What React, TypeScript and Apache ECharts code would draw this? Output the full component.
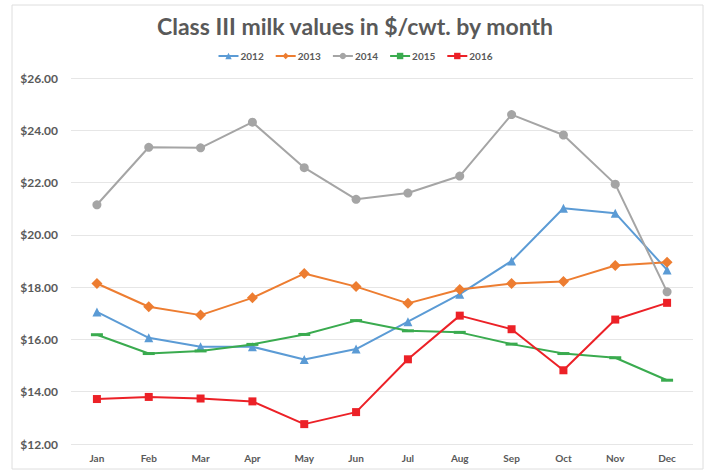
import React, { useEffect, useRef } from "react";
import * as echarts from "echarts";

const months = ["Jan", "Feb", "Mar", "Apr", "May", "Jun", "Jul", "Aug", "Sep", "Oct", "Nov", "Dec"];
const v2012 = [17.05, 16.06, 15.72, 15.72, 15.23, 15.63, 16.68, 17.73, 19.0, 21.02, 20.83, 18.66];
const v2013 = [18.14, 17.25, 16.93, 17.59, 18.52, 18.02, 17.38, 17.91, 18.14, 18.22, 18.83, 18.95];
const v2014 = [21.15, 23.35, 23.33, 24.31, 22.57, 21.36, 21.6, 22.25, 24.6, 23.82, 21.94, 17.82];
const v2015 = [16.18, 15.46, 15.56, 15.81, 16.19, 16.72, 16.33, 16.27, 15.82, 15.46, 15.3, 14.44];
const v2016 = [13.72, 13.8, 13.74, 13.63, 12.76, 13.22, 15.24, 16.91, 16.39, 14.82, 16.76, 17.4];
const yTicks = { min: 12, max: 26, step: 2 };

const FONT = "Lato, 'Open Sans', sans-serif";
const TXT = "#595959";

export default function App() {
  const ref = useRef<HTMLDivElement>(null);
  useEffect(() => {
    if (!ref.current) return;
    const chart = echarts.init(ref.current, undefined, { renderer: "svg" });
    const mk = (name: string, data: number[], color: string, symbol: string, size: any) => ({
      name,
      type: "line",
      data,
      symbol,
      symbolSize: size,
      showSymbol: true,
      lineStyle: { color, width: 2 },
      itemStyle: { color },
    });
    chart.setOption({
      animation: false,
      backgroundColor: "#fff",
      textStyle: { fontFamily: FONT },
      title: {
        text: "Class III milk values in $/cwt. by month",
        left: "center",
        top: 9,
        textStyle: { fontFamily: FONT, fontSize: 23, fontWeight: "bold", color: TXT },
      },
      legend: {
        top: 46,
        left: "center",
        itemWidth: 20,
        itemHeight: 8,
        itemGap: 11,
        textStyle: { fontFamily: FONT, fontSize: 10, fontWeight: "bold", color: TXT, padding: [0, 0, 0, -3] },
      },
      grid: { left: 71, right: 17, top: 78, bottom: 26 },
      xAxis: {
        type: "category",
        data: months,
        boundaryGap: true,
        axisLine: { show: false },
        axisTick: { show: false },
        axisLabel: { color: TXT, fontFamily: FONT, fontSize: 10, fontWeight: "bold", margin: 9 },
      },
      yAxis: {
        type: "value",
        min: yTicks.min,
        max: yTicks.max,
        interval: yTicks.step,
        axisLine: { show: false },
        axisTick: { show: false },
        splitLine: { lineStyle: { color: "#e6e6e6", width: 1 } },
        axisLabel: {
          color: TXT,
          fontFamily: FONT,
          fontSize: 12,
          fontWeight: "bold",
          margin: 13,
          formatter: (v: number) => "$" + v.toFixed(2),
        },
      },
      graphic: [
        {
          type: "rect",
          shape: { x: 12, y: 5, width: 691, height: 464 },
          style: { fill: "none", stroke: "#dedede", lineWidth: 1 },
          silent: true,
          z: -1,
        },
      ],
      series: [
        mk("2012", v2012, "#5b9bd5", "triangle", 9),
        mk("2013", v2013, "#ed7d31", "diamond", 11),
        mk("2014", v2014, "#a5a5a5", "circle", 9),
        mk("2015", v2015, "#3aab4f", "rect", [12, 3]),
        mk("2016", v2016, "#ec2127", "rect", 8),
      ],
    });
    return () => chart.dispose();
  }, []);
  return <div ref={ref} style={{ width: 710, height: 470, position: "absolute", left: 0, top: 0 }} />;
}
